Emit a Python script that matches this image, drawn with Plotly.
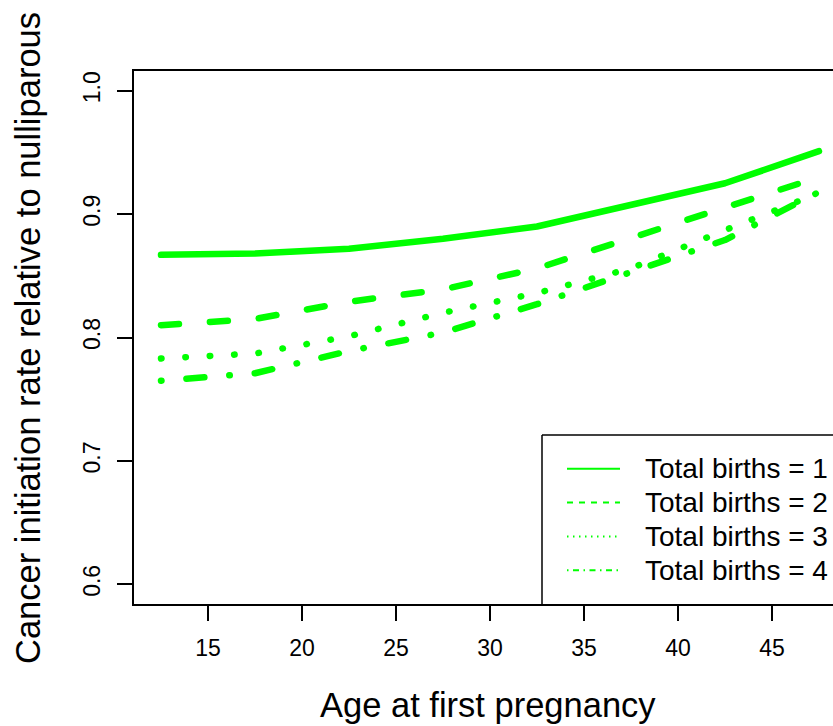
import plotly.graph_objects as go

# Age at first pregnancy (midpoints of 5-year groups)
ages = [12.5, 17.5, 22.5, 27.5, 32.5, 37.5, 42.5, 47.5]

# Cancer initiation rate relative to nulliparous women, by total births
births1 = [0.867, 0.868, 0.872, 0.880, 0.890, 0.908, 0.925, 0.951]
births2 = [0.810, 0.815, 0.829, 0.839, 0.856, 0.881, 0.906, 0.930]
births3 = [0.783, 0.787, 0.801, 0.820, 0.836, 0.856, 0.887, 0.917]
births4 = [0.765, 0.771, 0.789, 0.804, 0.827, 0.853, 0.879, 0.918]

series = [births1, births2, births3, births4]
labels = ["Total births = 1", "Total births = 2", "Total births = 3", "Total births = 4"]

x_ticks = [15, 20, 25, 30, 35, 40, 45]
y_ticks = [0.6, 0.7, 0.8, 0.9, 1.0]

GREEN = "#00FF00"
FONT = "Liberation Sans, Arial, Helvetica, sans-serif"

# Dash patterns for the thick curves (round caps applied after render)
curve_dash = ["solid", "18px,31px", "0.5px,23.9px", "0.5px,25px,18px,25px"]
# Thin dash patterns for the legend samples
key_dash = ["solid", "6px,6px", "1.5px,4.5px", "1.5px,4.5px,6px,4.5px"]

W, H = 833, 726
L, T, B = 134, 71, 604
PW, PH = W - L, B - T


def px_x(px):
    return (px - L) / PW


def px_y(py):
    return (B - py) / PH


fig = go.Figure()
for vals, name, dash in zip(series, labels, curve_dash):
    fig.add_trace(go.Scatter(
        x=ages, y=vals, mode="lines", name=name,
        line=dict(color=GREEN, width=6.5, dash=dash),
        showlegend=False, hoverinfo="skip",
    ))

shapes = []
annotations = []

# Legend frame: left and top edges (bottom sits on the x axis, right runs off the page)
frame = dict(color="black", width=1.5)
shapes.append(dict(type="line", xref="paper", yref="paper",
                   x0=px_x(542), x1=px_x(542), y0=0, y1=px_y(435), line=frame))
shapes.append(dict(type="line", xref="paper", yref="paper",
                   x0=px_x(542), x1=px_x(W + 30), y0=px_y(435), y1=px_y(435), line=frame))
rows = [468.8, 502.6, 536.4, 570.2]
for py, name, dash in zip(rows, labels, key_dash):
    shapes.append(dict(type="line", xref="paper", yref="paper",
                       x0=px_x(567), x1=px_x(620), y0=px_y(py), y1=px_y(py),
                       line=dict(color=GREEN, width=2, dash=dash)))
    annotations.append(dict(text=name, xref="paper", yref="paper",
                            x=px_x(643), y=px_y(py), xanchor="left", yanchor="middle",
                            showarrow=False, font=dict(family=FONT, size=28, color="black")))

# Axis titles
annotations.append(dict(text="Age at first pregnancy", xref="paper", yref="paper",
                        x=px_x(488), y=px_y(705), xanchor="center", yanchor="middle",
                        showarrow=False, font=dict(family=FONT, size=34.5, color="black")))
annotations.append(dict(text="Cancer initiation rate relative to nulliparous",
                        xref="paper", yref="paper", textangle=-90,
                        x=px_x(28), y=px_y(338), xanchor="center", yanchor="middle",
                        showarrow=False, font=dict(family=FONT, size=34.5, color="black")))

axis_common = dict(
    showgrid=False, zeroline=False, showline=True, linecolor="black", linewidth=1.5,
    ticks="outside", ticklen=15, tickwidth=1.5, tickcolor="black",
    tickfont=dict(family=FONT, size=23, color="black"),
)

fig.update_layout(
    width=W, height=H,
    margin=dict(l=L, r=0, t=T, b=H - B, autoexpand=False),
    paper_bgcolor="white", plot_bgcolor="white",
    xaxis=dict(range=[11.064, 48.245], tickvals=x_ticks, mirror=True,
               ticklabelstandoff=8, **axis_common),
    yaxis=dict(range=[0.584, 1.016], tickvals=y_ticks, tickformat=".1f",
               tickangle=-90, ticklabelstandoff=8, **axis_common),
    shapes=shapes, annotations=annotations, showlegend=False,
)

round_caps = ("document.querySelectorAll('.scatterlayer path.js-line')"
              ".forEach(function(p){p.style.strokeLinecap='round';"
              "p.style.strokeLinejoin='round';});")

fig.write_html("out.html", post_script=round_caps)
